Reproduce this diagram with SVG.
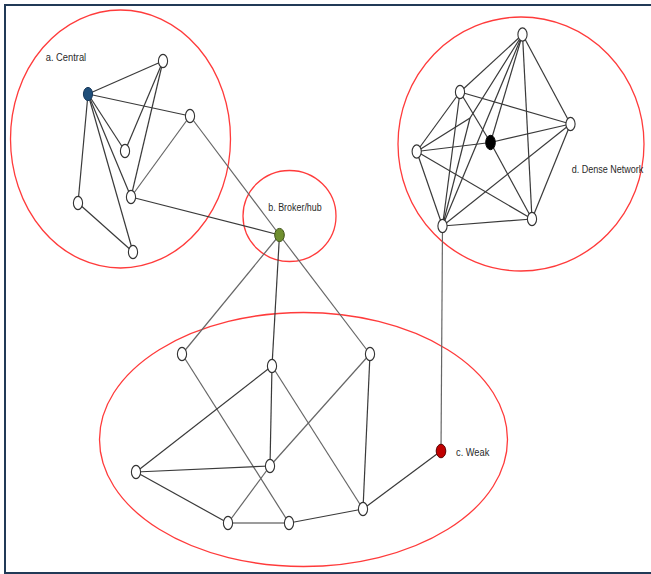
<svg xmlns="http://www.w3.org/2000/svg" width="651" height="574" viewBox="0 0 651 574">
<style>
.grp{fill:none;stroke:#ff3b3b;stroke-width:1.3}
.e{stroke:#3a3a3a;stroke-width:1.2;fill:none}
.eg{stroke:#666;stroke-width:1.2;fill:none}
.n{fill:#fff;stroke:#333;stroke-width:1.1}
.lbl{font-family:"Liberation Sans",Arial,sans-serif;font-size:10px;fill:#2a2a2a}
</style>
<rect x="5" y="5" width="660" height="568" fill="#fff" stroke="#213a57" stroke-width="2"/>
<g id="groups">
<ellipse class="grp" cx="120.5" cy="139" rx="110" ry="129"/>
<ellipse class="grp" cx="289.5" cy="216" rx="46.5" ry="45.5"/>
<ellipse class="grp" cx="303.5" cy="439.5" rx="204" ry="127"/>
<ellipse class="grp" cx="521" cy="144" rx="123" ry="127"/>
</g>
<g id="connectors">
<!-- cluster a -->
<line class="e" x1="88" y1="94" x2="163" y2="61"/>
<line class="e" x1="88" y1="94" x2="190" y2="116"/>
<line class="e" x1="88" y1="94" x2="125" y2="151"/>
<line class="e" x1="88" y1="94" x2="131" y2="197"/>
<line class="e" x1="88" y1="94" x2="133" y2="252"/>
<line class="e" x1="88" y1="94" x2="78" y2="203"/>
<line class="e" x1="163" y1="61" x2="125" y2="151"/>
<line class="e" x1="163" y1="61" x2="131" y2="197"/>
<line class="eg" x1="190" y1="116" x2="131" y2="197"/>
<line class="e" x1="78" y1="203" x2="133" y2="252"/>
<line class="eg" x1="190" y1="116" x2="279.5" y2="235"/>
<line class="e" x1="131" y1="197" x2="279.5" y2="235"/>
<!-- broker to c -->
<line class="eg" x1="279.5" y1="235" x2="182" y2="354"/>
<line class="e" x1="279.5" y1="235" x2="272" y2="366"/>
<line class="eg" x1="279.5" y1="235" x2="370" y2="354"/>
<!-- cluster c -->
<line class="eg" x1="182" y1="354" x2="289" y2="523"/>
<line class="e" x1="272" y1="366" x2="270" y2="466"/>
<line class="e" x1="272" y1="366" x2="136" y2="472"/>
<line class="eg" x1="272" y1="366" x2="363" y2="509"/>
<line class="eg" x1="370" y1="354" x2="270" y2="466"/>
<line class="eg" x1="270" y1="466" x2="228" y2="523"/>
<line class="e" x1="370" y1="354" x2="363" y2="509"/>
<line class="e" x1="136" y1="472" x2="270" y2="466"/>
<line class="e" x1="136" y1="472" x2="228" y2="523"/>
<line class="e" x1="228" y1="523" x2="289" y2="523"/>
<line class="e" x1="289" y1="523" x2="363" y2="509"/>
<line class="e" x1="363" y1="509" x2="441" y2="451"/>
<line class="eg" x1="441" y1="451" x2="442.5" y2="226"/>
<!-- dense d -->
<line class="e" x1="522.5" y1="34.5" x2="460" y2="92"/>
<line class="e" x1="522.5" y1="34.5" x2="570.5" y2="124"/>
<line class="e" x1="522.5" y1="34.5" x2="532" y2="219"/>
<line class="e" x1="522.5" y1="34.5" x2="490.5" y2="142.5"/>
<line class="e" x1="522.5" y1="34.5" x2="442.5" y2="226"/>
<polyline class="e" points="416.7,151.5 470,118 522.5,34.5"/>
<line class="e" x1="442.5" y1="226" x2="470" y2="118"/>
<line class="e" x1="460" y1="92" x2="570.5" y2="124"/>
<line class="e" x1="460" y1="92" x2="490.5" y2="142.5"/>
<line class="e" x1="490.5" y1="142.5" x2="532" y2="219"/>
<line class="e" x1="460" y1="92" x2="416.7" y2="151.5"/>
<line class="e" x1="460" y1="92" x2="442.5" y2="226"/>
<line class="e" x1="416.7" y1="151.5" x2="490.5" y2="142.5"/>
<line class="e" x1="490.5" y1="142.5" x2="570.5" y2="124"/>
<line class="e" x1="416.7" y1="151.5" x2="532" y2="219"/>
<line class="e" x1="416.7" y1="151.5" x2="442.5" y2="226"/>
<line class="e" x1="442.5" y1="226" x2="570.5" y2="124"/>
<line class="e" x1="442.5" y1="226" x2="532" y2="219"/>
<line class="e" x1="570.5" y1="124" x2="532" y2="219"/>
</g>
<g id="node-a-central"><ellipse cx="88" cy="94" rx="4.6" ry="6.6" fill="#1f4e79" stroke="#1a3a5c" stroke-width="1"/></g>
<g id="node-a1"><ellipse class="n" cx="163" cy="61" rx="4.6" ry="6.6"/></g>
<g id="node-a2"><ellipse class="n" cx="190" cy="116" rx="4.6" ry="6.6"/></g>
<g id="node-a3"><ellipse class="n" cx="125" cy="151" rx="4.6" ry="6.6"/></g>
<g id="node-a4"><ellipse class="n" cx="131" cy="197" rx="4.6" ry="6.6"/></g>
<g id="node-a5"><ellipse class="n" cx="78" cy="203" rx="4.6" ry="6.6"/></g>
<g id="node-a6"><ellipse class="n" cx="133" cy="252" rx="4.6" ry="6.6"/></g>
<g id="node-broker"><ellipse cx="279.5" cy="235" rx="4.8" ry="6.6" fill="#6f8f2f" stroke="#3f5218" stroke-width="1"/></g>
<g id="node-c1"><ellipse class="n" cx="182" cy="354" rx="4.6" ry="6.6"/></g>
<g id="node-c2"><ellipse class="n" cx="272" cy="366" rx="4.6" ry="6.6"/></g>
<g id="node-c3"><ellipse class="n" cx="370" cy="354" rx="4.6" ry="6.6"/></g>
<g id="node-c4"><ellipse class="n" cx="136" cy="472" rx="4.6" ry="6.6"/></g>
<g id="node-c5"><ellipse class="n" cx="270" cy="466" rx="4.6" ry="6.6"/></g>
<g id="node-c6"><ellipse class="n" cx="228" cy="523" rx="4.6" ry="6.6"/></g>
<g id="node-c7"><ellipse class="n" cx="289" cy="523" rx="4.6" ry="6.6"/></g>
<g id="node-c8"><ellipse class="n" cx="363" cy="509" rx="4.6" ry="6.6"/></g>
<g id="node-weak"><ellipse cx="441" cy="451" rx="4.8" ry="6.8" fill="#c00000" stroke="#5a0000" stroke-width="1"/></g>
<g id="node-d-top"><ellipse class="n" cx="522.5" cy="34.5" rx="4.6" ry="6.6"/></g>
<g id="node-d-ul"><ellipse class="n" cx="460" cy="92" rx="4.6" ry="6.6"/></g>
<g id="node-d-r"><ellipse class="n" cx="570.5" cy="124" rx="4.6" ry="6.6"/></g>
<g id="node-d-center"><ellipse cx="490.5" cy="142.5" rx="4.8" ry="7.2" fill="#000" stroke="#000" stroke-width="1"/></g>
<g id="node-d-l"><ellipse class="n" cx="416.7" cy="151.5" rx="4.6" ry="6.6"/></g>
<g id="node-d-br"><ellipse class="n" cx="532" cy="219" rx="4.6" ry="6.6"/></g>
<g id="node-d-bl"><ellipse class="n" cx="442.5" cy="226" rx="4.6" ry="6.6"/></g>
<g id="labels">
<text class="lbl" x="45.7" y="61" textLength="40.5" lengthAdjust="spacingAndGlyphs">a. Central</text>
<text class="lbl" x="268.3" y="210.5" textLength="53.4" lengthAdjust="spacingAndGlyphs">b. Broker/hub</text>
<text class="lbl" x="456" y="456" textLength="33.3" lengthAdjust="spacingAndGlyphs">c. Weak</text>
<text class="lbl" x="571.7" y="173" textLength="71.7" lengthAdjust="spacingAndGlyphs">d. Dense Network</text>
</g>
</svg>
